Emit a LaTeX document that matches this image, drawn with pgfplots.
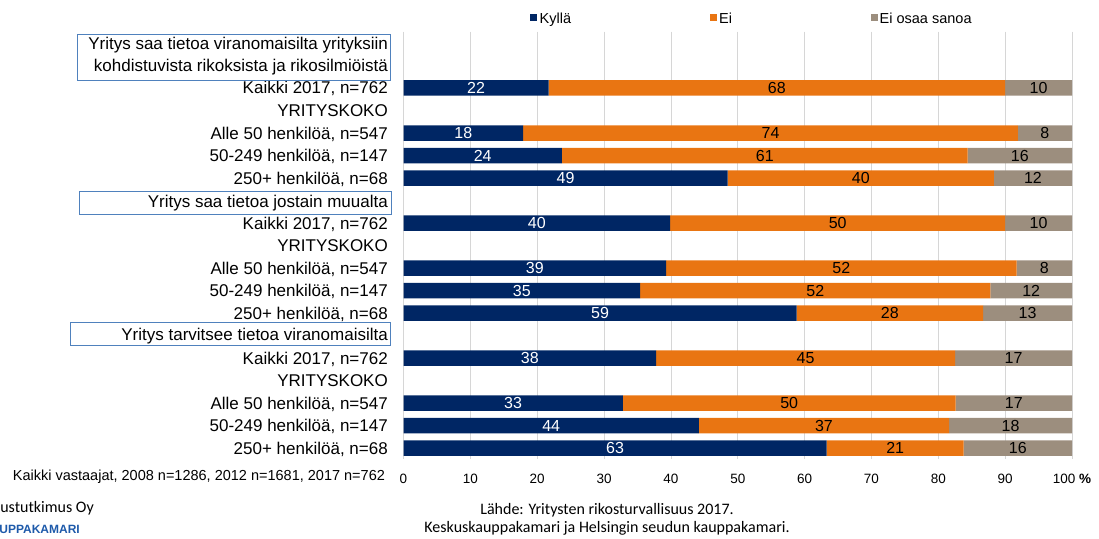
\documentclass[border=0pt]{standalone}
\usepackage{pgfplots}
\pgfplotsset{compat=1.18}
\usepackage{pgfplotstable}
\usepackage{fontspec}
\setmainfont{Liberation Sans}
\newfontfamily\cali{Carlito}
\definecolor{kylla}{RGB}{0,38,100}
\definecolor{ei}{RGB}{233,117,18}
\definecolor{eos}{RGB}{156,142,126}
\definecolor{boxblue}{RGB}{79,129,189}
\definecolor{gridc}{RGB}{214,214,214}
\definecolor{logoblue}{RGB}{30,90,170}

\pgfplotstableread{
row kyl ei eos lk le leos
2 21.7 68.3 10.0 22 68 10
4 17.9 74.0 8.1 18 74 8
5 23.7 60.7 15.6 24 61 16
6 48.5 39.8 11.7 49 40 12
8 39.9 50.1 10.0 40 50 10
10 39.3 52.4 8.3 39 52 8
11 35.4 52.4 12.2 35 52 12
12 58.8 27.9 13.3 59 28 13
14 37.8 44.7 17.5 38 45 17
16 32.8 49.8 17.4 33 50 17
17 44.2 37.4 18.4 44 37 18
18 63.3 20.5 16.2 63 21 16
}\data

\begin{document}
\begin{tikzpicture}
\useasboundingbox (0pt,0pt) rectangle (1099pt,538pt);
\begin{axis}[
  at={(403.5pt,78.75pt)}, anchor=south west,
  scale only axis, width=668.5pt, height=427.5pt,
  xbar stacked, bar width=15.5pt,
  xmin=0, xmax=100, ymin=-0.5, ymax=18.5, y dir=reverse,
  axis line style={draw=none},
  xtick={0,10,...,100},
  xticklabels={0,10,20,30,40,50,60,70,80,90,{100 \textbf{\%}}},
  xmajorgrids, major grid style={gridc, line width=0.8pt},
  major tick length=0pt,
  ytick={2,3,4,5,6,8,9,10,11,12,14,15,16,17,18},
  yticklabels={{Kaikki 2017, n=762},YRITYSKOKO,{Alle 50 henkilöä, n=547},{50-249 henkilöä, n=147},{250+ henkilöä, n=68},
               {Kaikki 2017, n=762},YRITYSKOKO,{Alle 50 henkilöä, n=547},{50-249 henkilöä, n=147},{250+ henkilöä, n=68},
               {Kaikki 2017, n=762},YRITYSKOKO,{Alle 50 henkilöä, n=547},{50-249 henkilöä, n=147},{250+ henkilöä, n=68}},
  yticklabel style={font=\fontsize{17}{20}\selectfont, anchor=base east, inner sep=0pt, xshift=-15.5pt, yshift=-6pt},
  xticklabel style={font=\fontsize{13.5}{14}\selectfont, anchor=base, inner sep=0pt, yshift=-24.25pt},
  nodes near coords, point meta=explicit symbolic,
  every node near coord/.append style={font=\fontsize{16}{16}\selectfont},
  clip=false,
]
\addplot+[fill=kylla, draw=none, every node near coord/.append style={white}] table[x=kyl, y=row, meta=lk]{\data};
\addplot+[fill=ei, draw=none, every node near coord/.append style={black}] table[x=ei, y=row, meta=le]{\data};
\addplot+[fill=eos, draw=none, every node near coord/.append style={black}] table[x=eos, y=row, meta=leos]{\data};
\end{axis}
\begin{scope}[x=1pt,y=1pt]
% legend
\fill[kylla] (529.5,516.5) rectangle (536.5,523.5);
\node[anchor=base west, inner sep=0pt, font=\fontsize{14.5}{15}\selectfont] at (539.5,514.5) {Kyllä};
\fill[ei] (709.5,516.5) rectangle (716.5,523.5);
\node[anchor=base west, inner sep=0pt, font=\fontsize{14.5}{15}\selectfont] at (719,514.5) {Ei};
\fill[eos] (870.5,516.5) rectangle (877.5,523.5);
\node[anchor=base west, inner sep=0pt, font=\fontsize{14.5}{15}\selectfont] at (879.5,514.5) {Ei osaa sanoa};
% group boxes
\draw[boxblue, line width=0.9pt] (77.5,458) rectangle (390.5,504);
\node[anchor=base east, inner sep=0pt, font=\fontsize{17}{20}\selectfont] at (388,488) {Yritys saa tietoa viranomaisilta yrityksiin};
\node[anchor=base east, inner sep=0pt, font=\fontsize{17}{20}\selectfont] at (388,466) {kohdistuvista rikoksista ja rikosilmiöistä};
\draw[boxblue, line width=0.9pt] (79.3,323.7) rectangle (391.5,346.3);
\node[anchor=base east, inner sep=0pt, font=\fontsize{17}{20}\selectfont] at (388,330.3) {Yritys saa tietoa jostain muualta};
\draw[boxblue, line width=0.9pt] (70.7,192.3) rectangle (390.7,215.3);
\node[anchor=base east, inner sep=0pt, font=\fontsize{17}{20}\selectfont] at (388,197) {Yritys tarvitsee tietoa viranomaisilta};
% bottom texts
\node[anchor=base west, inner sep=0pt, font=\fontsize{14.5}{15}\selectfont] at (12.7,57.8) {Kaikki vastaajat, 2008 n=1286, 2012 n=1681, 2017 n=762};
\node[anchor=base, inner sep=0pt, font=\cali\fontsize{16}{16}\selectfont] at (607,23.3) {Lähde: Yritysten rikosturvallisuus 2017.};
\node[anchor=base, inner sep=0pt, font=\cali\fontsize{16}{16}\selectfont] at (607,5.3) {Keskuskauppakamari ja Helsingin seudun kauppakamari.};
\node[anchor=base east, inner sep=0pt, font=\cali\fontsize{16}{16}\selectfont] at (94,25.4) {Taloustutkimus Oy};
\node[anchor=base east, inner sep=0pt, font=\fontsize{12}{12}\selectfont\bfseries, text=logoblue] at (80,5) {KAUPPAKAMARI};
\end{scope}
\end{tikzpicture}
\end{document}
